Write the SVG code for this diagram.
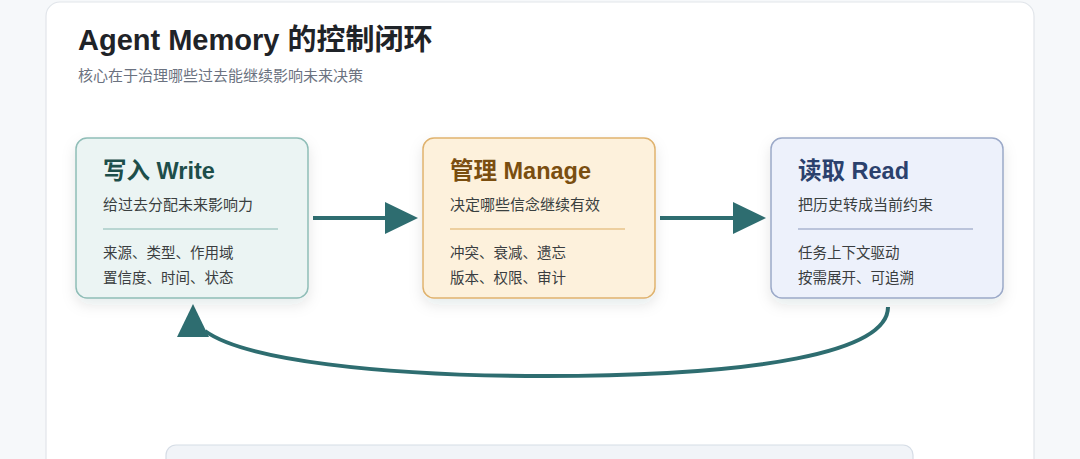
<svg xmlns="http://www.w3.org/2000/svg" width="1080" height="459" viewBox="0 0 1080 459">
  <defs>
    <filter id="shadow" x="-20%" y="-20%" width="140%" height="150%">
      <feDropShadow dx="0" dy="6" stdDeviation="7" flood-color="#1f2a37" flood-opacity="0.10"/>
    </filter>
    <marker id="head" markerUnits="userSpaceOnUse" markerWidth="34" markerHeight="34" refX="0" refY="16" orient="auto">
      <path d="M0,0 L33,16 L0,32 z" fill="#2e6d70"/>
    </marker>
    <marker id="headUp" markerUnits="userSpaceOnUse" markerWidth="34" markerHeight="34" refX="6" refY="28" orient="270">
      <path d="M0,0 L33,16 L0,32 z" fill="#2e6d70"/>
    </marker>
  </defs>
  <style>
    .title { font-family: "Liberation Sans", "Noto Sans CJK SC", sans-serif; font-weight: 700; font-size: 29px; fill: #1f2328; }
    .sub { font-family: "Liberation Sans", "Noto Sans CJK SC", sans-serif; font-size: 15px; fill: #6b7280; }
    .ntitle { font-family: "Liberation Sans", "Noto Sans CJK SC", sans-serif; font-weight: 700; font-size: 23.5px; }
    .ndesc { font-family: "Liberation Sans", "Noto Sans CJK SC", sans-serif; font-size: 15px; fill: #3a4040; }
    .nitem { font-family: "Liberation Sans", "Noto Sans CJK SC", sans-serif; font-size: 14.5px; fill: #3a3d40; }
    .conn { fill: none; stroke: #2e6d70; stroke-width: 4; }
  </style>

  <rect x="0" y="0" width="1080" height="459" fill="#f6f8fa"/>
  <rect id="card" x="46" y="2" width="988" height="500" rx="14" fill="#ffffff" stroke="#e1e5ea" stroke-width="1.2"/>

  <text class="title" x="78" y="50">Agent Memory 的控制闭环</text>
  <text class="sub" x="78" y="81">核心在于治理哪些过去能继续影响未来决策</text>

  <g id="connectors">
    <line class="conn" x1="313" y1="218" x2="385" y2="218" marker-end="url(#head)"/>
    <line class="conn" x1="660" y1="218" x2="733" y2="218" marker-end="url(#head)"/>
    <path class="conn" d="M888,307 C888,352 760,376 545,376 C380,376 245,360 205,331" marker-end="url(#headUp)"/>
  </g>

  <g id="write">
    <rect x="76" y="138" width="232" height="160" rx="11" fill="#ebf4f3" stroke="#8fbdb7" stroke-width="1.5" filter="url(#shadow)"/>
    <text class="ntitle" x="103" y="179" fill="#1d4e4a">写入 Write</text>
    <text class="ndesc" x="103" y="210">给过去分配未来影响力</text>
    <line x1="103" y1="229" x2="278" y2="229" stroke="#a8ccc7" stroke-width="1.5"/>
    <text class="nitem" x="103" y="258">来源、类型、作用域</text>
    <text class="nitem" x="103" y="283">置信度、时间、状态</text>
  </g>

  <g id="manage">
    <rect x="423" y="138" width="232" height="160" rx="11" fill="#fdf1dc" stroke="#dfb26e" stroke-width="1.5" filter="url(#shadow)"/>
    <text class="ntitle" x="450" y="179" fill="#7a4e10">管理 Manage</text>
    <text class="ndesc" x="450" y="210">决定哪些信念继续有效</text>
    <line x1="450" y1="229" x2="625" y2="229" stroke="#e7c38b" stroke-width="1.5"/>
    <text class="nitem" x="450" y="258">冲突、衰减、遗忘</text>
    <text class="nitem" x="450" y="283">版本、权限、审计</text>
  </g>

  <g id="read">
    <rect x="771" y="138" width="232" height="160" rx="11" fill="#edf1fb" stroke="#9ba9c8" stroke-width="1.5" filter="url(#shadow)"/>
    <text class="ntitle" x="798" y="179" fill="#2b416d">读取 Read</text>
    <text class="ndesc" x="798" y="210">把历史转成当前约束</text>
    <line x1="798" y1="229" x2="973" y2="229" stroke="#aab5d1" stroke-width="1.5"/>
    <text class="nitem" x="798" y="258">任务上下文驱动</text>
    <text class="nitem" x="798" y="283">按需展开、可追溯</text>
  </g>

  <g id="bottom-panel">
    <rect x="166" y="445" width="747" height="60" rx="10" fill="#f1f4f8" stroke="#d6dde6" stroke-width="1.2"/>
  </g>
</svg>
